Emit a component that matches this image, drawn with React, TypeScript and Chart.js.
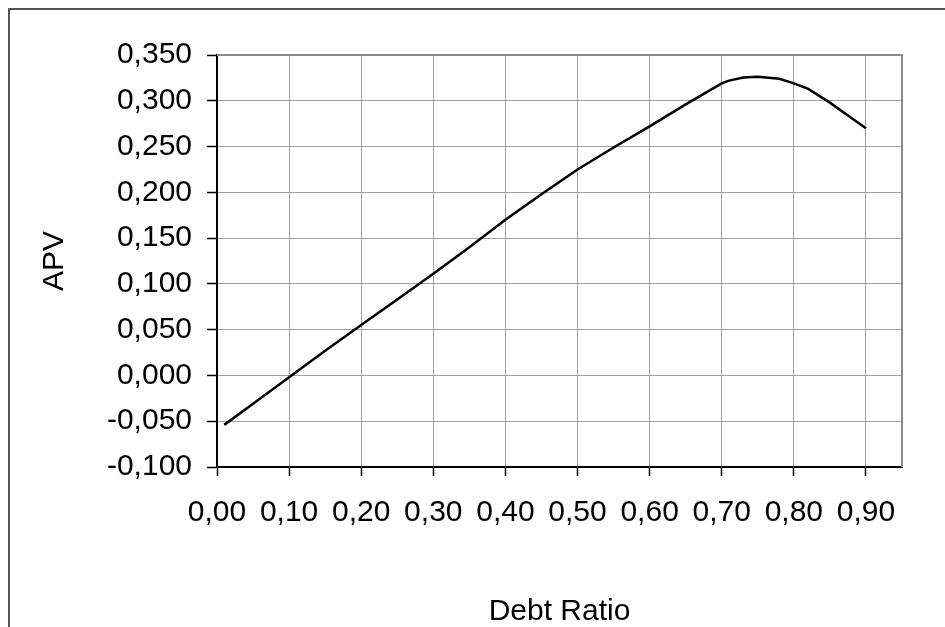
import React, { useEffect, useRef } from 'react';
import { Chart, registerables } from 'chart.js';

Chart.register(...registerables);

// ---- data ----
const debtRatio = [0.01, 0.05, 0.10, 0.15, 0.20, 0.25, 0.30, 0.35, 0.40, 0.45, 0.50, 0.55, 0.60, 0.65, 0.70, 0.71, 0.73, 0.75, 0.78, 0.80, 0.82, 0.85, 0.875, 0.90];
const apv = [-0.054, -0.031, -0.002, 0.027, 0.055, 0.083, 0.111, 0.140, 0.170, 0.198, 0.225, 0.249, 0.272, 0.296, 0.319, 0.322, 0.3255, 0.3262, 0.324, 0.319, 0.313, 0.298, 0.284, 0.270];
const xTickValues = [0, 0.1, 0.2, 0.3, 0.4, 0.5, 0.6, 0.7, 0.8, 0.9];
const yTickValues = [-0.1, -0.05, 0, 0.05, 0.1, 0.15, 0.2, 0.25, 0.3, 0.35];
const xTitle = 'Debt Ratio';
const yTitle = 'APV';

const FONT = '"Liberation Sans", Arial, sans-serif';
const FONT_SIZE = 30;

const framePlugin = {
  id: 'frame',
  afterDraw(chart: any) {
    const { ctx, chartArea } = chart;
    ctx.save();
    // grey plot border top and right
    ctx.strokeStyle = '#8c8c8c';
    ctx.lineWidth = 2;
    ctx.beginPath();
    ctx.moveTo(chartArea.left, chartArea.top);
    ctx.lineTo(chartArea.right, chartArea.top);
    ctx.lineTo(chartArea.right, chartArea.bottom);
    ctx.stroke();
    // outer frame
    ctx.strokeStyle = '#1a1a1a';
    ctx.lineWidth = 1.5;
    ctx.beginPath();
    ctx.moveTo(9, 640);
    ctx.lineTo(9, 9);
    ctx.lineTo(960, 9);
    ctx.stroke();
    ctx.restore();
  },
};

export default function App() {
  const ref = useRef<HTMLCanvasElement | null>(null);
  useEffect(() => {
    if (!ref.current) return;
    const chart = new Chart(ref.current, {
      type: 'line',
      data: {
        datasets: [
          {
            data: debtRatio.map((x, i) => ({ x, y: apv[i] })),
            borderColor: '#000000',
            borderWidth: 2.5,
            pointRadius: 0,
            tension: 0,
            fill: false,
          },
        ],
      },
      options: {
        responsive: false,
        animation: false,
        layout: { padding: { top: 55, right: 43, left: 0, bottom: 0 } },
        plugins: { legend: { display: false }, tooltip: { enabled: false } },
        scales: {
          x: {
            type: 'linear',
            min: 0,
            max: 0.95,
            afterBuildTicks: (s: any) => {
              s.ticks = xTickValues.map((v) => ({ value: v }));
            },
            afterFit: (s: any) => {
              s.height = 160;
            },
            grid: { color: '#a0a0a0', lineWidth: 1, tickLength: 9, tickColor: '#000000', tickWidth: 1.5 },
            border: { display: true, color: '#000000', width: 2 },
            ticks: {
              autoSkip: false,
              maxRotation: 0,
              padding: 19,
              color: '#000000',
              font: { family: FONT, size: FONT_SIZE },
              callback: (v: any) => Number(v).toFixed(2).replace('.', ','),
            },
            title: {
              display: true,
              text: xTitle,
              color: '#000000',
              font: { family: FONT, size: FONT_SIZE },
              padding: { top: 0, bottom: -3 },
            },
          },
          y: {
            type: 'linear',
            min: -0.1,
            max: 0.35,
            afterBuildTicks: (s: any) => {
              s.ticks = yTickValues.map((v) => ({ value: v }));
            },
            afterFit: (s: any) => {
              s.width = 217;
            },
            grid: { color: '#a0a0a0', lineWidth: 1, tickLength: 10, tickColor: '#000000', tickWidth: 1.5 },
            border: { display: true, color: '#000000', width: 2 },
            ticks: {
              padding: 15,
              color: '#000000',
              font: { family: FONT, size: FONT_SIZE },
              callback: (v: any) => Number(v).toFixed(3).replace('.', ',').replace('-0,000', '0,000'),
            },
            title: {
              display: true,
              text: yTitle,
              color: '#000000',
              font: { family: FONT, size: FONT_SIZE },
              padding: { top: 37, bottom: 0 },
            },
          },
        },
      },
      plugins: [framePlugin],
    });
    return () => chart.destroy();
  }, []);
  return (
    <div style={{ position: 'absolute', left: 0, top: 0, width: 945, height: 627, background: '#ffffff' }}>
      <canvas ref={ref} width={945} height={627} style={{ display: 'block' }} />
    </div>
  );
}
